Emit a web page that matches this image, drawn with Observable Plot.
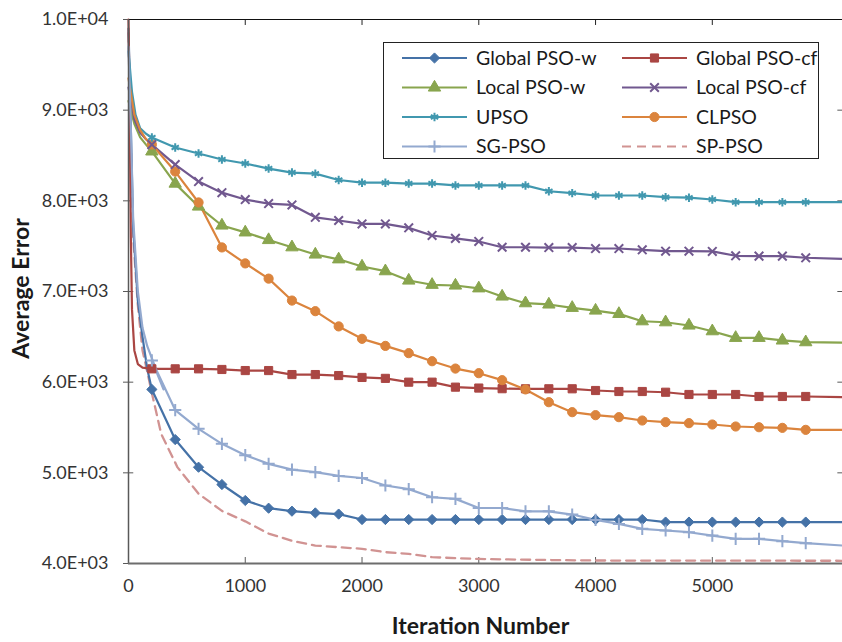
<!DOCTYPE html>
<html>
<head>
<meta charset="utf-8">
<script src="https://cdn.jsdelivr.net/npm/d3@7"></script>
<script src="https://cdn.jsdelivr.net/npm/@observablehq/plot@0.6"></script>
<style>
  html, body { margin: 0; padding: 0; background: #fff; }
  #wrap { position: relative; width: 842px; height: 642px; overflow: hidden; }
  #legend { position: absolute; left: 383px; top: 42px; }
</style>
</head>
<body>
<div id="wrap"><div id="chart"></div><svg id="legend" width="436" height="117"></svg></div>
<script>
// ---- data ----
const seriesNames = ["Global PSO-w", "Global PSO-cf", "Local PSO-w", "Local PSO-cf", "UPSO", "CLPSO", "SG-PSO", "SP-PSO"];
const seriesColors = ["#4572A7", "#AA4643", "#89A54E", "#71588F", "#4198AF", "#DB843D", "#93A9CF", "#D19392"];
const seriesSymbols = ["diamond2", "square", "triangle", "times", "asterisk", "circle", "plus", null];

const markerIters = [200, 400, 600, 800, 1000, 1200, 1400, 1600, 1800, 2000, 2200, 2400, 2600, 2800, 3000,
  3200, 3400, 3600, 3800, 4000, 4200, 4400, 4600, 4800, 5000, 5200, 5400, 5600, 5800];
const endIter = 6115;

// early (steep) part of each curve: [iteration, error]
const headGlobalW = [[0, 9900], [20, 8800], [40, 7700], [80, 6900], [120, 6500], [160, 6150]];
const headGlobalCf = [[0, 10000], [10, 9000], [20, 7600], [30, 6800], [50, 6350], [80, 6200], [120, 6160]];
const headLocalW = [[0, 9100], [50, 8850], [100, 8700], [150, 8620]];
const headLocalCf = [[0, 9250], [50, 8900], [100, 8750], [150, 8680]];
const headUpso = [[0, 9650], [30, 9200], [60, 8950], [100, 8800], [150, 8740]];
const headClpso = [[0, 9350], [50, 8950], [100, 8780], [150, 8680]];
const headSgPso = [[0, 9700], [20, 8800], [40, 7800], [80, 7000], [120, 6600], [160, 6400]];

// values at marker iterations (200 ... 5800)
const globalW = [5920, 5367, 5062, 4871, 4695, 4610, 4577, 4558, 4545, 4485, 4485, 4485, 4485, 4485, 4485,
  4485, 4485, 4485, 4485, 4485, 4485, 4485, 4457, 4457, 4457, 4457, 4457, 4457, 4457];
const globalCf = [6147, 6147, 6147, 6140, 6128, 6128, 6084, 6084, 6073, 6052, 6042, 6000, 6000, 5945, 5935,
  5928, 5927, 5927, 5927, 5908, 5897, 5897, 5889, 5864, 5864, 5864, 5842, 5842, 5842];
const localW = [8545, 8190, 7937, 7728, 7652, 7568, 7488, 7408, 7355, 7276, 7224, 7121, 7074, 7066, 7035,
  6945, 6871, 6857, 6820, 6790, 6753, 6672, 6661, 6625, 6562, 6489, 6489, 6460, 6441];
const localCf = [8620, 8400, 8213, 8090, 8014, 7970, 7955, 7818, 7783, 7745, 7745, 7702, 7618, 7586, 7552,
  7488, 7488, 7485, 7485, 7474, 7474, 7460, 7445, 7445, 7442, 7394, 7390, 7390, 7372];
const upso = [8698, 8588, 8522, 8456, 8412, 8356, 8312, 8300, 8230, 8200, 8200, 8190, 8190, 8170, 8170,
  8170, 8170, 8106, 8085, 8059, 8059, 8059, 8040, 8035, 8015, 7985, 7985, 7985, 7985];
const clpso = [8621, 8323, 7982, 7486, 7310, 7142, 6900, 6783, 6615, 6478, 6400, 6320, 6231, 6150, 6099,
  6022, 5920, 5779, 5669, 5636, 5614, 5577, 5559, 5548, 5533, 5511, 5503, 5496, 5474];
const sgPso = [6240, 5692, 5485, 5320, 5195, 5099, 5035, 5007, 4966, 4943, 4860, 4820, 4731, 4713, 4612,
  4612, 4575, 4575, 4540, 4481, 4437, 4382, 4364, 4345, 4308, 4272, 4272, 4246, 4224];
const endValues = [4457, 5835, 6435, 7360, 7985, 5474, 4198];

// SP-PSO (dashed, no markers): [iteration, error]
const spPso = [[0, 9850], [20, 8600], [40, 7600], [80, 6850], [120, 6350], [160, 6120], [200, 5880], [280, 5430],
  [420, 5060], [600, 4770], [800, 4580], [1000, 4465], [1200, 4330], [1400, 4250], [1600, 4198], [1800, 4180],
  [2000, 4162], [2200, 4125], [2400, 4107], [2600, 4070], [2800, 4059], [3000, 4050], [3500, 4040], [4000, 4033],
  [6115, 4030]];

const xTicks = [0, 1000, 2000, 3000, 4000, 5000];
const yTicks = [4000, 5000, 6000, 7000, 8000, 9000, 10000];

// ---- build tables ----
const heads = [headGlobalW, headGlobalCf, headLocalW, headLocalCf, headUpso, headClpso, headSgPso];
const bodies = [globalW, globalCf, localW, localCf, upso, clpso, sgPso];
const lineRows = [];
const markRows = [];
bodies.forEach((vals, i) => {
  const name = seriesNames[i];
  heads[i].forEach(([x, y]) => lineRows.push({name, x, y}));
  if (i === 6) lineRows.push({name, x: 300, y: 5920});
  vals.forEach((y, j) => {
    lineRows.push({name, x: markerIters[j], y});
    markRows.push({name, x: markerIters[j], y, sym: seriesSymbols[i]});
  });
  lineRows.push({name, x: endIter, y: endValues[i]});
});
const spRows = spPso.map(([x, y]) => ({name: "SP-PSO", x, y}));

const fmt = d => {
  const [m, e] = d.toExponential(1).split("e");
  return m + "E" + e[0] + e.slice(1).padStart(2, "0");
};

const FONT = "Lato, 'Open Sans', sans-serif";
const colorScale = {domain: seriesNames, range: seriesColors};
const STROKED = ["times", "asterisk", "plus"];

const chart = Plot.plot({
  width: 842,
  height: 642,
  marginLeft: 128,
  marginRight: 0,
  marginTop: 19,
  marginBottom: 79,
  style: {fontFamily: FONT, background: "#fff", overflow: "visible"},
  x: {domain: [0, endIter], label: null},
  y: {domain: [4000, 10000], label: null},
  color: colorScale,
  marks: [
    Plot.axisY({ticks: yTicks, tickFormat: fmt, tickSize: 5, tickPadding: 15, fontSize: 18, stroke: "#595959", color: "#333", label: null}),
    Plot.axisX({ticks: xTicks, tickFormat: d => String(d), tickSize: 0, tickPadding: 16, fontSize: 18, color: "#333", label: null}),
    // inward ticks
    Plot.ruleY(yTicks, {y: d => d, x1: 0, x2: 45, stroke: "#595959"}),
    Plot.ruleY(yTicks.slice(1, -1), {y: d => d, x1: 6075, x2: endIter, stroke: "#595959"}),
    Plot.ruleX(xTicks.slice(1), {x: d => d, y1: 4000, y2: 4066, stroke: "#595959"}),
    Plot.ruleX(xTicks.slice(1), {x: d => d, y1: 10000, y2: 9934, stroke: "#222"}),
    // series
    Plot.line(spRows, {x: "x", y: "y", stroke: "name", strokeWidth: 2.3, strokeDasharray: "9,6"}),
    Plot.line(lineRows, {x: "x", y: "y", z: "name", stroke: "name", strokeWidth: 2.2}),
    Plot.dot(markRows.filter(d => STROKED.indexOf(d.sym) < 0),
      {x: "x", y: "y", symbol: "sym", fill: "name", stroke: "name", strokeWidth: 1, r: 4.6}),
    Plot.dot(markRows.filter(d => STROKED.indexOf(d.sym) >= 0),
      {x: "x", y: "y", symbol: "sym", stroke: "name", strokeWidth: 2, r: 4}),
    // frame lines
    Plot.ruleY([10000], {stroke: "#111", strokeWidth: 1.2}),
    Plot.ruleX([0], {stroke: "#595959", strokeWidth: 1.5}),
    Plot.ruleY([4000], {stroke: "#6d6d6d", strokeWidth: 2}),
    // axis titles
    Plot.text(["Iteration Number"], {frameAnchor: "bottom", dx: -5, dy: 63, text: d => d, textAnchor: "middle", lineAnchor: "middle",
      fontSize: 23, fontWeight: "bold", fill: "#1a1a1a"}),
    Plot.text(["Average Error"], {frameAnchor: "left", dx: -107, dy: -3, text: d => d, rotate: -90, textAnchor: "middle", lineAnchor: "middle",
      fontSize: 23, fontWeight: "bold", fill: "#1a1a1a"})
  ]
});
document.getElementById("chart").appendChild(chart);

// ---- legend ----
const leg = d3.select("#legend");
leg.append("rect").attr("x", 0.5).attr("y", 0.5).attr("width", 435).attr("height", 116)
  .attr("fill", "#fff").attr("stroke", "#222").attr("stroke-width", 1);
const symMap = {diamond2: d3.symbolDiamond2, square: d3.symbolSquare, triangle: d3.symbolTriangle,
  times: d3.symbolTimes, asterisk: d3.symbolAsterisk, circle: d3.symbolCircle, plus: d3.symbolPlus};
seriesNames.forEach((name, i) => {
  const col = i % 2, row = Math.floor(i / 2);
  const x0 = col === 0 ? 19 : 239, y0 = 16 + row * 29.5;
  const g = leg.append("g").attr("transform", `translate(${x0},${y0})`);
  const c = seriesColors[i];
  g.append("line").attr("x1", 0).attr("x2", 65).attr("y1", 0).attr("y2", 0)
    .attr("stroke", c).attr("stroke-width", 2.2)
    .attr("stroke-dasharray", seriesSymbols[i] ? null : "9,6");
  const s = seriesSymbols[i];
  if (s) {
    const stroked = STROKED.includes(s);
    const r = stroked ? 4 : 4.6;
    g.append("path").attr("transform", "translate(32.5,0)")
      .attr("d", d3.symbol(symMap[s], Math.PI * r * r)())
      .attr("fill", stroked ? "none" : c).attr("stroke", c).attr("stroke-width", stroked ? 2 : 1);
  }
  g.append("text").attr("x", 74).attr("y", 0).attr("dy", "0.35em")
    .attr("font-family", FONT).attr("font-size", 19.5).attr("fill", "#1a1a1a").text(name);
});
</script>
</body>
</html>
